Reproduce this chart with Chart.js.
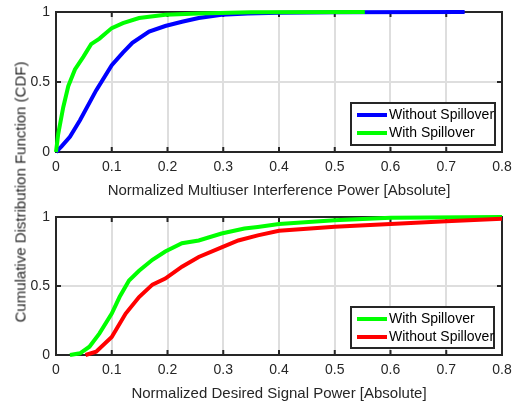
<!DOCTYPE html>
<html><head><meta charset="utf-8">
<script src="https://cdn.jsdelivr.net/npm/chart.js@4/dist/chart.umd.min.js"></script>
<style>
html,body{margin:0;padding:0;background:#fff;}
#wrap{position:relative;width:514px;height:403px;overflow:hidden;}
canvas{position:absolute;left:0;}
#c1{top:0;}
#c2{top:200px;}
#ytitle{position:absolute;left:20px;top:192px;transform:translate(-50%,-50%) rotate(-90deg);white-space:nowrap;font-family:"Liberation Sans",Arial,sans-serif;font-size:15px;color:#262626;}
</style></head>
<body><div id="wrap">
<canvas id="c1" width="514" height="200" style="width:514px;height:200px"></canvas>
<canvas id="c2" width="514" height="203" style="width:514px;height:203px"></canvas>
<div id="ytitle">Cumulative Distribution Function (CDF)</div>
</div>
<script>
// ---- Data ----
const xTicks = [0, 0.1, 0.2, 0.3, 0.4, 0.5, 0.6, 0.7, 0.8];
const yTicks = [0, 0.5, 1];

// Top: Multiuser interference power
const mui_without_x = [0, 0.01, 0.025, 0.043, 0.072, 0.1, 0.12, 0.137, 0.167, 0.196, 0.226, 0.256, 0.297, 0.344, 0.4, 0.5, 0.733];
const mui_without_y = [0, 0.04, 0.108, 0.227, 0.44, 0.62, 0.71, 0.78, 0.86, 0.90, 0.93, 0.957, 0.98, 0.99, 0.995, 0.999, 1];
const mui_with_x = [0, 0.004, 0.013, 0.022, 0.034, 0.049, 0.063, 0.078, 0.1, 0.12, 0.149, 0.196, 0.256, 0.35, 0.554];
const mui_with_y = [0, 0.13, 0.32, 0.47, 0.59, 0.68, 0.77, 0.81, 0.885, 0.92, 0.957, 0.98, 0.99, 0.998, 1];

// Bottom: Desired signal power
const sig_with_x = [0.025, 0.043, 0.06, 0.078, 0.1, 0.114, 0.131, 0.149, 0.173, 0.196, 0.226, 0.256, 0.297, 0.338, 0.362, 0.4, 0.5, 0.6, 0.8];
const sig_with_y = [0, 0.012, 0.06, 0.157, 0.30, 0.42, 0.54, 0.61, 0.69, 0.75, 0.81, 0.83, 0.88, 0.916, 0.928, 0.95, 0.976, 0.995, 1];
const sig_without_x = [0.053, 0.072, 0.1, 0.125, 0.149, 0.173, 0.196, 0.226, 0.256, 0.297, 0.327, 0.362, 0.4, 0.5, 0.6, 0.7, 0.8];
const sig_without_y = [0, 0.024, 0.13, 0.30, 0.42, 0.51, 0.554, 0.64, 0.71, 0.78, 0.83, 0.867, 0.9, 0.93, 0.95, 0.97, 0.988];

const FONT = '"Liberation Sans", Arial, sans-serif';
const TXT = '#262626';
const BLUE = '#0000ff', GREEN = '#00ff00', RED = '#ff0000';

function pts(xs, ys){ return xs.map((x,i)=>({x:x, y:ys[i]})); }

const boxPlugin = {
  id:'box',
  beforeDatasetsDraw(chart){
    const {ctx, chartArea:a, scales} = chart;
    ctx.save();
    ctx.strokeStyle = TXT; ctx.lineWidth = 2;
    ctx.strokeRect(a.left, a.top, a.right-a.left, a.bottom-a.top);
    const tl = 5;
    ctx.beginPath();
    xTicks.forEach(v=>{
      const px = scales.x.getPixelForValue(v);
      ctx.moveTo(px, a.bottom); ctx.lineTo(px, a.bottom - tl);
      ctx.moveTo(px, a.top); ctx.lineTo(px, a.top + tl);
    });
    yTicks.forEach(v=>{
      const py = scales.y.getPixelForValue(v);
      ctx.moveTo(a.left, py); ctx.lineTo(a.left + tl, py);
      ctx.moveTo(a.right, py); ctx.lineTo(a.right - tl, py);
    });
    ctx.stroke();
    ctx.restore();
  }
};

const legendPlugin = {
  id:'boxLegend',
  afterDatasetsDraw(chart, args, opts){
    const {ctx} = chart;
    const {x, y, w, h, items} = opts;
    ctx.save();
    ctx.fillStyle = '#fff';
    ctx.fillRect(x, y, w, h);
    ctx.strokeStyle = TXT; ctx.lineWidth = 2;
    ctx.strokeRect(x, y, w, h);
    ctx.font = '14px ' + FONT;
    ctx.textBaseline = 'middle';
    items.forEach((it, i)=>{
      const ry = y + 12 + i*18;
      ctx.strokeStyle = it.color; ctx.lineWidth = 4;
      ctx.beginPath(); ctx.moveTo(x+6, ry); ctx.lineTo(x+36, ry); ctx.stroke();
      ctx.fillStyle = '#000';
      ctx.fillText(it.label, x+38, ry);
    });
    ctx.restore();
  }
};

function makeChart(id, datasets, xTitle, legend){
  return new Chart(document.getElementById(id), {
    type:'scatter',
    data:{datasets: datasets},
    plugins:[boxPlugin, legendPlugin],
    options:{
      responsive:false, animation:false,
      layout:{padding:{left:0, right:12, top:legend.top, bottom:0}},
      plugins:{legend:{display:false}, tooltip:{enabled:false}, boxLegend: legend},
      elements:{point:{radius:0}, line:{tension:0, borderWidth:4}},
      scales:{
        x:{type:'linear', min:0, max:0.8,
           afterBuildTicks(s){ s.ticks = xTicks.map(v=>({value:v})); },
           ticks:{font:{family:FONT, size:14}, color:TXT, padding:7, maxRotation:0,
                  callback:v=>String(Math.round(v*10)/10)},
           grid:{color:'#dedede', lineWidth:2, drawTicks:false},
           border:{display:false},
           title:{display:true, text:xTitle, font:{family:FONT, size:15}, color:TXT, padding:{top:3, bottom:0}},
           afterFit(s){ s.height = legend.xh; s.paddingLeft = 0; s.paddingRight = 0; }
        },
        y:{type:'linear', min:0, max:1,
           afterBuildTicks(s){ s.ticks = yTicks.map(v=>({value:v})); },
           ticks:{font:{family:FONT, size:14}, color:TXT, padding:6,
                  callback:v=>String(v)},
           grid:{color:'#dedede', lineWidth:2, drawTicks:false},
           border:{display:false},
           afterFit(s){ s.width = 56; s.paddingTop = 0; s.paddingBottom = 0; }
        }
      }
    }
  });
}

makeChart('c1', [
  {label:'With Spillover', data:pts(mui_with_x, mui_with_y), showLine:true, borderColor:GREEN, backgroundColor:GREEN, order:0, clip:4},
  {label:'Without Spillover', data:pts(mui_without_x, mui_without_y), showLine:true, borderColor:BLUE, backgroundColor:BLUE, order:1, clip:4}
], 'Normalized Multiuser Interference Power [Absolute]',
 {x:351, y:103, w:144, h:42, xh:48, top:12, items:[{label:'Without Spillover', color:BLUE},{label:'With Spillover', color:GREEN}]});

makeChart('c2', [
  {label:'Without Spillover', data:pts(sig_without_x, sig_without_y), showLine:true, borderColor:RED, backgroundColor:RED, order:0, clip:4},
  {label:'With Spillover', data:pts(sig_with_x, sig_with_y), showLine:true, borderColor:GREEN, backgroundColor:GREEN, order:1, clip:4}
], 'Normalized Desired Signal Power [Absolute]',
 {x:351, y:107, w:143, h:41, xh:48, top:17, items:[{label:'With Spillover', color:GREEN},{label:'Without Spillover', color:RED}]});
</script>
</body></html>
